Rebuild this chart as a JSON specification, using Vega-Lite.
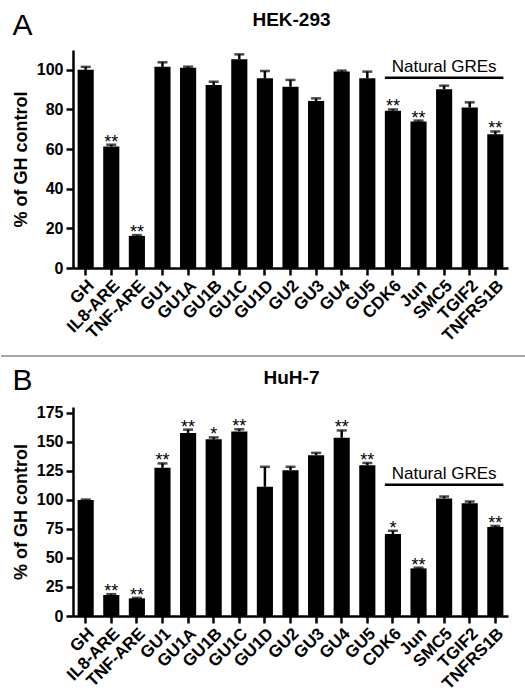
{
  "$schema": "https://vega.github.io/schema/vega-lite/v6.json",
  "padding": {"top": 10, "left": 0, "right": 0, "bottom": 0},
  "background": "white",
  "bounds": "flush",
  "spacing": 51,
  "config": {
    "font": "Liberation Sans",
    "view": {"stroke": null},
    "axis": {
      "domainColor": "black", "domainWidth": 2.5, "tickColor": "black", "tickWidth": 2.5, "tickSize": 7,
      "labelColor": "black", "labelFont": "Liberation Sans", "labelFontWeight": "bold", "labelFontSize": 16,
      "titleFont": "Liberation Sans", "titleFontWeight": "bold", "titleFontSize": 18, "titleColor": "black", "grid": false,
      "labelOverlap": false
    },
    "axisX": {"labelAngle": -45, "labelPadding": 2, "labelFontSize": 17},
    "axisY": {"titlePadding": 6, "labelPadding": 3}
  },
  "datasets": {
    "hek": [
      {"gene": "GH", "value": 100, "hi": 101.5, "sig": ""},
      {"gene": "IL8-ARE", "value": 61.3, "hi": 62.2, "sig": "**"},
      {"gene": "TNF-ARE", "value": 16.2, "hi": 16.6, "sig": "**"},
      {"gene": "GU1", "value": 101.5, "hi": 103.8, "sig": ""},
      {"gene": "GU1A", "value": 101, "hi": 101.6, "sig": ""},
      {"gene": "GU1B", "value": 92.3, "hi": 94, "sig": ""},
      {"gene": "GU1C", "value": 105.3, "hi": 107.8, "sig": ""},
      {"gene": "GU1D", "value": 95.7, "hi": 99.4, "sig": ""},
      {"gene": "GU2", "value": 91.5, "hi": 94.9, "sig": ""},
      {"gene": "GU3", "value": 84.3, "hi": 85.6, "sig": ""},
      {"gene": "GU4", "value": 99.1, "hi": 99.6, "sig": ""},
      {"gene": "GU5", "value": 95.7, "hi": 99.1, "sig": ""},
      {"gene": "CDK6", "value": 79.4, "hi": 80, "sig": "**"},
      {"gene": "Jun", "value": 73.9, "hi": 74.4, "sig": "**"},
      {"gene": "SMC5", "value": 90.2, "hi": 92, "sig": ""},
      {"gene": "TGIF2", "value": 81, "hi": 83.6, "sig": ""},
      {"gene": "TNFRS1B", "value": 67.5, "hi": 68.9, "sig": "**"}
    ],
    "huh": [
      {"gene": "GH", "value": 100, "hi": 100.3, "sig": ""},
      {"gene": "IL8-ARE", "value": 18.1, "hi": 18.8, "sig": "**"},
      {"gene": "TNF-ARE", "value": 15.2, "hi": 15.6, "sig": "**"},
      {"gene": "GU1", "value": 127.6, "hi": 131.4, "sig": "**"},
      {"gene": "GU1A", "value": 157.7, "hi": 160.5, "sig": "**"},
      {"gene": "GU1B", "value": 152.2, "hi": 153.8, "sig": "*"},
      {"gene": "GU1C", "value": 159, "hi": 160.8, "sig": "**"},
      {"gene": "GU1D", "value": 111.3, "hi": 128.5, "sig": ""},
      {"gene": "GU2", "value": 125.6, "hi": 128.5, "sig": ""},
      {"gene": "GU3", "value": 138.5, "hi": 140.5, "sig": ""},
      {"gene": "GU4", "value": 153.5, "hi": 159.8, "sig": "**"},
      {"gene": "GU5", "value": 129.8, "hi": 131.8, "sig": "**"},
      {"gene": "CDK6", "value": 70.6, "hi": 73.4, "sig": "*"},
      {"gene": "Jun", "value": 41, "hi": 41.6, "sig": "**"},
      {"gene": "SMC5", "value": 101.3, "hi": 102.9, "sig": ""},
      {"gene": "TGIF2", "value": 97, "hi": 98.6, "sig": ""},
      {"gene": "TNFRS1B", "value": 76.6, "hi": 77.6, "sig": "**"}
    ]
  },
  "vconcat": [
    {
      "width": 435, "height": 218,
      "data": {"name": "hek"},
      "encoding": {
        "x": {"field": "gene", "type": "nominal", "sort": null,
          "scale": {"domain": ["GH","IL8-ARE","TNF-ARE","GU1","GU1A","GU1B","GU1C","GU1D","GU2","GU3","GU4","GU5","CDK6","Jun","SMC5","TGIF2","TNFRS1B"], "paddingInner": 0.37, "paddingOuter": 0.18},
          "axis": {"title": null}}
      },
      "layer": [
        {"mark": {"type": "bar", "color": "black"},
         "encoding": {"y": {"field": "value", "type": "quantitative", "scale": {"domain": [0, 110]},
           "axis": {"values": [0, 20, 40, 60, 80, 100], "tickCount": 20, "title": "% of GH control", "labelOverlap": false}}}},
        {"mark": {"type": "rule", "color": "black", "strokeWidth": 2.5},
         "encoding": {"y": {"field": "value", "type": "quantitative"}, "y2": {"field": "hi"}}},
        {"mark": {"type": "tick", "color": "black", "thickness": 2.5, "size": 10},
         "encoding": {"y": {"field": "hi", "type": "quantitative"}}},
        {"mark": {"type": "text", "fontSize": 18, "baseline": "alphabetic", "dy": 3, "color": "black"},
         "encoding": {"y": {"field": "hi", "type": "quantitative"}, "text": {"field": "sig"}}},
        {"data": {"values": [{"label": "Natural GREs"}]},
         "mark": {"type": "rule", "color": "black", "strokeWidth": 2.5},
         "encoding": {"x": {"datum": "CDK6", "bandPosition": 0}, "x2": {"datum": "TNFRS1B", "bandPosition": 1}, "y": {"datum": 96}}},
        {"data": {"values": [{"label": "Natural GREs"}]},
         "mark": {"type": "text", "fontSize": 17, "baseline": "alphabetic", "dy": -6, "align": "center", "color": "black"},
         "encoding": {"x": {"datum": "SMC5"}, "y": {"datum": 96}, "text": {"field": "label"}}},
        {"data": {"values": [{"label": "HEK-293"}]},
         "mark": {"type": "text", "fontSize": 19, "fontWeight": "bold", "baseline": "middle", "align": "center", "dx": 1, "color": "black"},
         "encoding": {"x": {"datum": "GU2"}, "y": {"datum": 125}, "text": {"field": "label"}}},
        {"data": {"values": [{"label": "A"}]},
         "mark": {"type": "text", "fontSize": 30, "baseline": "alphabetic", "align": "left", "dx": -65, "color": "black"},
         "encoding": {"x": {"datum": "GH", "bandPosition": 0}, "y": {"datum": 117.6}, "text": {"field": "label"}}}
      ]
    },
    {
      "width": 435, "height": 37,
      "data": {"values": [{"label": "separator"}]},
      "mark": {"type": "rule", "color": "#8a8a8a", "strokeWidth": 1.5},
      "encoding": {
        "x": {"datum": -0.1655, "type": "quantitative", "scale": {"domain": [0, 1]}, "axis": null},
        "x2": {"datum": 1.0414},
        "y": {"datum": 0, "type": "quantitative", "scale": {"domain": [0, 1]}, "axis": null}
      }
    },
    {
      "width": 435, "height": 209,
      "data": {"name": "huh"},
      "encoding": {
        "x": {"field": "gene", "type": "nominal", "sort": null,
          "scale": {"domain": ["GH","IL8-ARE","TNF-ARE","GU1","GU1A","GU1B","GU1C","GU1D","GU2","GU3","GU4","GU5","CDK6","Jun","SMC5","TGIF2","TNFRS1B"], "paddingInner": 0.37, "paddingOuter": 0.18},
          "axis": {"title": null}}
      },
      "layer": [
        {"mark": {"type": "bar", "color": "black"},
         "encoding": {"y": {"field": "value", "type": "quantitative", "scale": {"domain": [0, 180]},
           "axis": {"values": [0, 25, 50, 75, 100, 125, 150, 175], "tickCount": 20, "title": "% of GH control", "labelOverlap": false}}}},
        {"mark": {"type": "rule", "color": "black", "strokeWidth": 2.5},
         "encoding": {"y": {"field": "value", "type": "quantitative"}, "y2": {"field": "hi"}}},
        {"mark": {"type": "tick", "color": "black", "thickness": 2.5, "size": 10},
         "encoding": {"y": {"field": "hi", "type": "quantitative"}}},
        {"mark": {"type": "text", "fontSize": 18, "baseline": "alphabetic", "dy": 3, "color": "black"},
         "encoding": {"y": {"field": "hi", "type": "quantitative"}, "text": {"field": "sig"}}},
        {"data": {"values": [{"label": "Natural GREs"}]},
         "mark": {"type": "rule", "color": "black", "strokeWidth": 2.5},
         "encoding": {"x": {"datum": "CDK6", "bandPosition": 0}, "x2": {"datum": "TNFRS1B", "bandPosition": 1}, "y": {"datum": 113}}},
        {"data": {"values": [{"label": "Natural GREs"}]},
         "mark": {"type": "text", "fontSize": 17, "baseline": "alphabetic", "dy": -6, "align": "center", "color": "black"},
         "encoding": {"x": {"datum": "SMC5"}, "y": {"datum": 113}, "text": {"field": "label"}}},
        {"data": {"values": [{"label": "HuH-7"}]},
         "mark": {"type": "text", "fontSize": 19, "fontWeight": "bold", "baseline": "middle", "align": "center", "dx": 1, "color": "black"},
         "encoding": {"x": {"datum": "GU2"}, "y": {"datum": 205}, "text": {"field": "label"}}},
        {"data": {"values": [{"label": "B"}]},
         "mark": {"type": "text", "fontSize": 30, "baseline": "alphabetic", "align": "left", "dx": -65, "color": "black"},
         "encoding": {"x": {"datum": "GH", "bandPosition": 0}, "y": {"datum": 194.6}, "text": {"field": "label"}}}
      ]
    }
  ]
}
